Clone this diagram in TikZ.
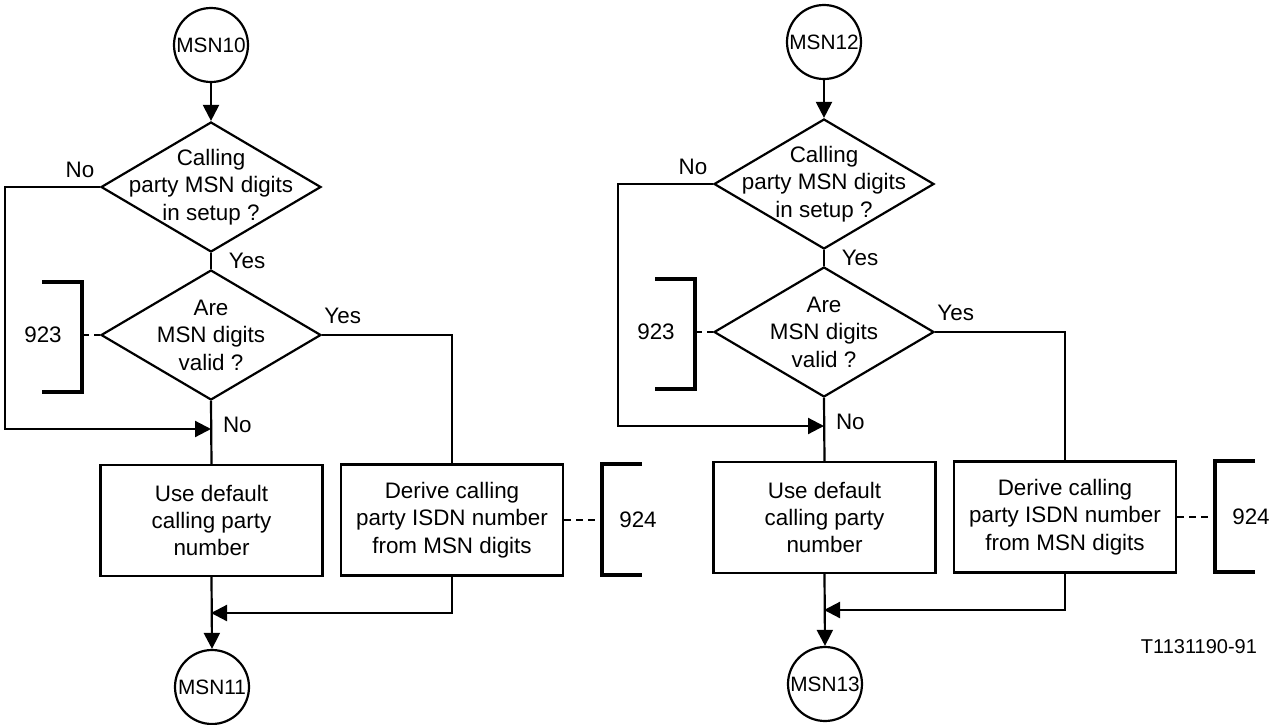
\documentclass[tikz,border=0pt]{standalone}
\usepackage{fontspec}
\setmainfont{Liberation Sans}
\usetikzlibrary{arrows.meta, shapes.geometric, positioning}
\tikzstyle{flow}= [line width=1.1pt]
\tikzstyle{decision}= [draw, flow, diamond, minimum width=110pt, minimum height=65pt, inner sep=0pt]
\tikzstyle{Box}= [draw, flow, minimum width=111pt, minimum height=55.5pt, align=center, inner sep=0pt]
\tikzstyle{conn}= [draw, flow, circle, minimum size=37pt, inner sep=0pt, font=\fontsize{10.4}{12}\selectfont]
\tikzstyle{bracket}= [line width=1.6pt]
\tikzstyle{refline}= [line width=1.3pt, dash pattern=on 3.5pt off 2.5pt]

\begin{document}
\begin{tikzpicture}[x=0.5pt,y=-0.5pt,>={Triangle[length=8pt,width=8pt]},
    font=\fontsize{11.2}{13.7}\selectfont]
    \useasboundingbox (0,0) rectangle (1281,724);

    % two charts, same shape
    \foreach \dx/\dy/\a/\b in {0/0/10/11, 613/-3/12/13} {
    \begin{scope}[shift={(\dx,\dy)}]
        \node [conn] (top\a) at (211,45) {MSN\a};
        \node [decision] (setup\a) at (211,187) {};
        \node [align=center] (setupT\a) at (setup\a) {Calling\\party MSN digits\\in setup ?};
        \node [decision] (valid\a) at (211,335) {};
        \node [align=center] (validT\a) at (valid\a) {Are\\MSN digits\\valid ?};
        \node [Box] (default\a) at (211.5,520.5) {Use default\\calling party\\number};
        \node [Box] (derive\a) at (452,520) {Derive calling\\party ISDN number\\from MSN digits};
        \node [conn] (end\a) at (212,687) {MSN\b};

        \draw[->, flow] (top\a) -- (setup\a.north);

        % no setup digits path
        \coordinate (loop\a) at (5,429);
        \node (noA\a) at (80,170) {No};
        \draw[->, flow] (setup\a.west) -| (loop\a) -- (loop\a -| valid\a.south);
        \draw[flow] (setup\a.south) -- (valid\a.north) node[midway, right=5pt] {Yes};
        \draw[flow] (valid\a.south) -- (default\a.north);
        \node [anchor=west] (noB\a) at (216,425) {No};

        % valid path
        \draw[flow] (valid\a.east) -| (derive\a.north);
        \node [anchor=south west, inner sep=1pt] (yes\a) at (322,326) {Yes};

        % merge
        \coordinate (join\a) at (211,613);
        \draw[->, flow] (derive\a.south) |- (join\a);
        \draw[->, flow] (default\a.south) -- (end\a.north);

        % references
        \coordinate (b923\a) at (82,335);
        \draw[bracket] (42,282) -| (82,392) -- (42,392);
        \node (r923\a) at (43,335) {923};
        \draw[refline] (b923\a) -- (valid\a.west);
        \coordinate (b924\a) at (602,520);
        \draw[bracket] (642,464) -| (602,575) -- (642,575);
        \node (r924\a) at (638,520) {924};
        \draw[refline] (derive\a.east) -- (b924\a);
    \end{scope}
    }

    \node [anchor=east, font=\fontsize{10}{12}\selectfont] (tag) at (1264,647) {T1131190-91};
\end{tikzpicture}
\end{document}
